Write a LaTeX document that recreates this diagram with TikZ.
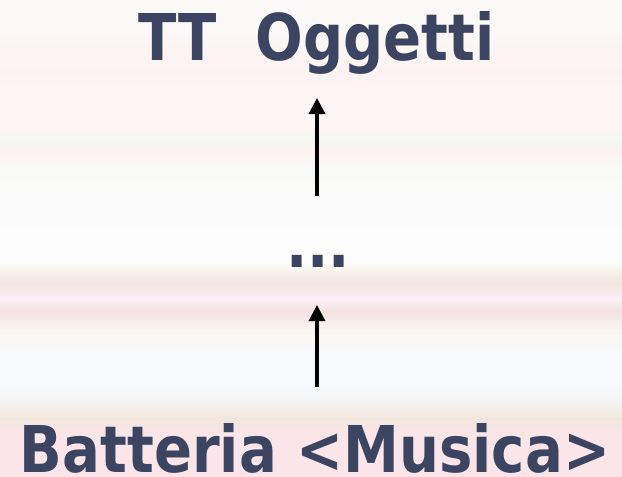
\documentclass[tikz,border=0pt]{standalone}
\usepackage{fontspec}
\setmainfont[FakeStretch=0.87]{DejaVu Sans}
\usetikzlibrary{arrows.meta}
\definecolor{txt}{HTML}{3B4460}
\definecolor{b0}{HTML}{FBF8F8}
\definecolor{b1}{HTML}{FCF6F2}
\definecolor{b2}{HTML}{FCF2F2}
\definecolor{b3}{HTML}{FEF5F5}
\definecolor{b4}{HTML}{F4F7F2}
\definecolor{b5}{HTML}{FCF2F0}
\definecolor{b6}{HTML}{F8FAF6}
\definecolor{b7}{HTML}{FBFBFB}
\definecolor{b8}{HTML}{FCFCFC}
\definecolor{b9}{HTML}{F7F1EA}
\definecolor{b10}{HTML}{F3E6E3}
\definecolor{b11}{HTML}{FBEEF6}
\definecolor{b12}{HTML}{F2E2E0}
\definecolor{b13}{HTML}{FBF6F2}
\definecolor{b14}{HTML}{F8F9FA}
\definecolor{b15}{HTML}{F5F4F4}
\definecolor{b16}{HTML}{F0E6DE}
\definecolor{b17}{HTML}{FBE5E8}
\tikzset{
  lbl/.style={anchor=base, text=txt, font=\bfseries\fontsize{64.5}{70}\selectfont, inner sep=0pt},
  arr/.style={line width=3.4pt, -{Triangle[width=16pt,length=16pt]}},
  band/.style 2 args={top color=#1, bottom color=#2, draw=none}
}
\begin{document}
\begin{tikzpicture}[x=1pt,y=-1pt]
\useasboundingbox (0,0) rectangle (622,477);
% background stripes
\shade[band={b0}{b0}] (0,0) rectangle (622,30);
\shade[band={b0}{b1}] (0,30) rectangle (622,45);
\shade[band={b1}{b2}] (0,45) rectangle (622,70);
\shade[band={b2}{b3}] (0,70) rectangle (622,90);
\shade[band={b3}{b3}] (0,90) rectangle (622,128);
\shade[band={b3}{b4}] (0,128) rectangle (622,138);
\shade[band={b4}{b5}] (0,138) rectangle (622,152);
\shade[band={b5}{b6}] (0,152) rectangle (622,170);
\shade[band={b6}{b7}] (0,170) rectangle (622,190);
\shade[band={b7}{b8}] (0,190) rectangle (622,262);
\shade[band={b8}{b9}] (0,262) rectangle (622,272);
\shade[band={b9}{b10}] (0,272) rectangle (622,284);
\shade[band={b10}{b11}] (0,284) rectangle (622,298);
\shade[band={b11}{b12}] (0,298) rectangle (622,312);
\shade[band={b12}{b13}] (0,312) rectangle (622,330);
\shade[band={b13}{b14}] (0,330) rectangle (622,350);
\shade[band={b14}{b14}] (0,350) rectangle (622,388);
\shade[band={b14}{b15}] (0,388) rectangle (622,400);
\shade[band={b15}{b16}] (0,400) rectangle (622,418);
\shade[band={b16}{b17}] (0,418) rectangle (622,435);
\shade[band={b17}{b17}] (0,435) rectangle (622,477);
% texts
\node[lbl] (top) at (316.5,60) {TT\ \ Oggetti};
\node[lbl] (mid) at (318,267) {...};
\node[lbl] (bot) at (315,472) {Batteria <Musica>};
% arrows
\coordinate (a1s) at (317,196);
\coordinate (a1e) at (317,98);
\coordinate (a2s) at (317,387);
\coordinate (a2e) at (317,305);
\draw[arr] (a1s) -- (a1e);
\draw[arr] (a2s) -- (a2e);
\end{tikzpicture}
\end{document}
